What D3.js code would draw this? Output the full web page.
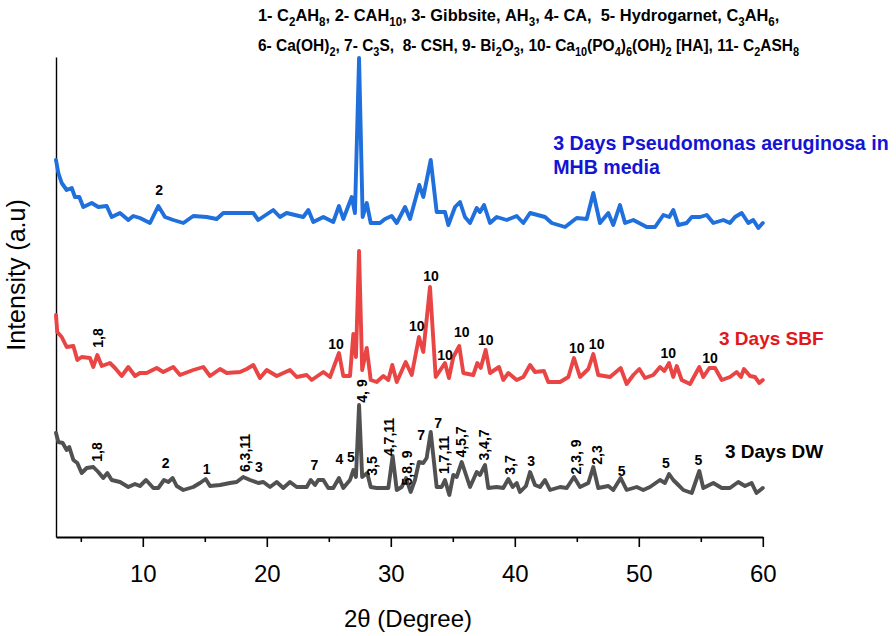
<!DOCTYPE html>
<html>
<head>
<meta charset="utf-8">
<script src="https://cdn.jsdelivr.net/npm/d3@7"></script>
<style>
  body { margin: 0; background: #fff; }
  svg { display: block; }
  text { font-family: "Liberation Sans", Arial, Helvetica, sans-serif; }
</style>
</head>
<body>
<svg id="chart" width="896" height="636"></svg>
<script>
// ---------------- DATA ----------------
// 3 Days DW (grey)
const dwAngle = [3.00,3.19,3.54,3.86,4.07,4.40,4.72,5.07,5.48,6.01,
  6.41,6.81,7.14,7.49,8.16,8.83,9.37,9.77,10.26,10.85,
  11.25,11.71,12.06,12.41,12.73,13.27,14.07,14.61,15.07,15.42,
  16.23,17.03,17.57,18.10,18.65,19.31,19.72,20.26,20.80,21.33,
  21.87,22.41,23.22,23.54,23.89,24.15,24.56,24.96,25.36,25.82,
  26.17,26.71,26.98,27.19,27.44,27.69,28.10,28.38,28.86,29.40,
  29.80,30.15,30.48,30.88,31.23,31.60,31.95,32.27,32.62,32.89,
  33.22,33.70,34.10,34.37,34.72,35.04,35.31,35.72,36.12,36.39,
  36.93,37.19,37.60,37.86,38.54,39.07,39.48,39.83,40.15,40.42,
  40.90,41.23,41.63,42.03,42.44,42.84,43.65,44.19,44.77,45.26,
  45.93,46.33,46.73,47.54,47.94,48.54,49.02,49.83,50.36,50.90,
  51.71,52.11,52.44,52.78,53.19,53.59,54.27,54.88,55.20,56.01,
  56.69,57.35,58.02,58.56,59.10,59.49,60.00];
const dwIntensity = [104,95,94,87,90,77,74,64,69,70,
  65,59,64,57,55,50,53,51,57,49,
  49,57,55,59,51,47,50,54,58,51,
  52,54,55,60,57,54,55,50,55,49,
  55,50,50,57,52,57,57,49,49,59,
  49,57,67,60,132,60,64,50,49,49,
  49,81,47,50,59,45,57,75,74,79,
  105,50,50,57,42,62,60,75,60,50,
  65,62,72,49,50,49,58,50,54,45,
  51,65,52,50,57,47,50,49,60,50,
  54,70,49,51,47,59,47,50,47,50,
  57,54,63,57,52,47,44,66,49,54,
  49,49,55,51,54,44,49];

// 3 Days SBF (red)
const sbfAngle = [3.00,3.10,3.46,3.86,4.40,4.72,5.07,5.74,6.01,6.33,
  6.69,7.35,7.76,8.30,8.83,9.37,9.77,10.31,11.12,11.65,
  12.46,13.00,14.07,14.88,15.42,16.23,16.77,17.84,18.38,18.91,
  19.45,19.99,20.80,21.87,22.41,23.22,23.62,24.56,25.10,25.82,
  26.17,26.71,26.98,27.19,27.44,27.69,28.06,28.38,28.86,29.40,
  29.80,30.12,30.48,31.20,31.69,32.27,32.62,33.16,33.62,34.37,
  34.69,35.04,35.52,35.85,36.65,36.98,37.25,37.65,38.00,38.73,
  39.07,39.48,40.15,40.69,41.23,41.63,42.35,42.70,43.65,44.32,
  44.77,45.26,45.93,46.33,46.73,47.68,48.54,49.02,49.56,50.04,
  50.50,51.17,51.71,52.06,52.44,52.78,53.06,53.46,54.13,54.88,
  55.20,55.69,56.15,56.69,57.35,57.89,58.24,58.48,58.97,59.37,
  59.72,60.00];
const sbfIntensity = [222,205,200,190,191,177,180,179,170,182,
  171,174,169,161,170,161,164,164,169,165,
  170,162,167,170,161,168,164,165,168,172,
  159,167,161,167,160,162,157,165,160,184,
  161,161,203,180,286,167,189,157,155,161,
  157,172,155,175,162,200,185,250,160,174,
  159,180,191,164,162,174,169,187,164,170,
  157,164,157,160,172,165,166,155,155,160,
  179,160,168,183,162,160,169,153,162,168,
  159,162,170,166,174,160,171,157,153,170,
  160,169,169,157,160,165,160,168,161,160,
  154,157];

// 3 Days Pseudomonas aeruginosa in MHB media (blue)
const mhbAngle = [3.00,3.19,3.46,3.86,4.27,4.53,4.88,5.20,5.88,6.41,
  7.09,7.49,8.16,8.83,9.23,9.77,10.58,11.25,11.79,12.46,
  13.27,14.07,15.15,15.96,16.49,17.84,18.91,19.31,20.52,21.06,
  21.60,22.94,23.35,23.75,24.56,25.36,25.82,26.17,26.85,27.11,
  27.44,27.73,28.06,28.38,29.13,29.53,30.07,30.48,31.15,31.55,
  32.30,32.62,33.22,33.70,33.97,34.37,34.64,35.18,35.58,35.98,
  36.39,36.93,37.19,37.52,38.00,38.54,39.35,40.15,40.69,41.23,
  42.44,42.98,44.05,44.99,45.80,46.33,46.87,47.54,47.94,48.48,
  48.89,49.56,50.64,51.31,51.98,52.46,52.78,53.19,53.86,54.27,
  54.94,55.48,56.01,56.82,57.35,57.76,58.30,58.83,59.23,59.64,
  60.00];
const mhbIntensity = [377,364,354,347,349,340,340,330,334,330,
  331,320,324,317,321,319,314,331,320,317,
  314,321,320,318,324,324,324,317,327,320,
  324,320,327,315,320,315,331,318,340,324,
  479,320,334,314,314,318,321,314,330,318,
  352,340,377,325,325,325,312,330,335,320,
  314,329,325,332,314,320,317,321,314,324,
  320,314,310,319,318,344,314,324,312,332,
  314,317,310,310,322,320,327,312,314,320,
  320,322,314,317,314,320,324,314,317,309,
  314];

// Peak annotations: [angle, intensity, label, vertical]
const mhbPeakLabels = [[11.31,347,"2",0]];
const sbfPeakLabels = [
  [6.41,199,"1,8",1],[25.58,193,"10",0],[32.09,211,"10",0],[33.24,261,"10",0],
  [34.37,182,"10",0],[35.72,205,"10",0],[37.65,197,"10",0],[44.99,189,"10",0],
  [46.60,193,"10",0],[52.38,184,"10",0],[55.74,179,"10",0]];
const dwPeakLabels = [
  [6.33,85,"1,8",1],[11.85,74,"2",0],[15.15,68,"1",0],[18.24,84,"6,3,11",1],
  [19.37,70,"3",0],[23.83,72,"7",0],[25.85,78,"4",0],[26.79,80,"5",0],
  [27.68,146,"4, 9",1],[28.46,71,"3,5",1],[29.85,100,"4,7,11",1],[31.28,69,"5,8, 9",1],
  [32.44,102,"7",0],[33.81,114,"7",0],[34.27,82,"1,7,11",1],[35.64,95,"4,5,7",1],
  [37.54,92,"3,4,7",1],[39.61,72,"3,7",1],[41.31,76,"3",0],[44.94,80,"2,3, 9",1],
  [46.60,82,"2,3",1],[48.62,66,"5",0],[52.19,74,"5",0],[54.80,77,"5",0]];

const xTicks = [10,20,30,40,50,60];
const xMinorTicks = [5,15,25,35,45,55];
const titleLines = [
  "1- C_2AH_8, 2- CAH_10, 3- Gibbsite, AH_3, 4- CA,  5- Hydrogarnet, C_3AH_6,",
  "6- Ca(OH)_2, 7- C_3S,  8- CSH, 9- Bi_2O_3, 10- Ca_10(PO_4)_6(OH)_2 [HA], 11- C_2ASH_8"];
const mhbName = ["3 Days Pseudomonas aeruginosa in", "MHB media"];
const sbfName = ["3 Days SBF"];
const dwName = ["3 Days DW"];
const xTitle = "2\u03B8 (Degree)";
const yTitle = "Intensity (a.u)";

// ---------------- CHART ----------------
const svg = d3.select("#chart");
const x = d3.scaleLinear().domain([3, 60]).range([56, 762.8]);
const y = d3.scaleLinear().domain([0, 480]).range([537, 57]);

// axes
const xAxisMinor = d3.axisBottom(x).tickValues(xMinorTicks).tickSize(5).tickSizeOuter(0).tickFormat("");
svg.append("g").attr("transform", "translate(0,537)").call(xAxisMinor)
  .call(g => g.select(".domain").remove())
  .call(g => g.selectAll("line").attr("stroke", "#000").attr("stroke-width", 1.6));

const xAxis = d3.axisBottom(x).tickValues(xTicks).tickSize(10).tickSizeOuter(0).tickPadding(18);
svg.append("g").attr("transform", "translate(0,537)").call(xAxis)
  .call(g => g.select(".domain").attr("stroke", "#000").attr("stroke-width", 2.2))
  .call(g => g.selectAll(".tick line").attr("stroke", "#000").attr("stroke-width", 1.6))
  .call(g => g.selectAll("text").attr("fill", "#000")
    .style("font-size", "24px").style("font-family", "'Liberation Sans', Arial, sans-serif"));

const yAxis = d3.axisLeft(y).tickValues([]).tickSizeOuter(0);
svg.append("g").attr("transform", "translate(56,0)").call(yAxis)
  .call(g => g.select(".domain").attr("stroke", "#000").attr("stroke-width", 1.4));

// lines
const line = d3.line().x(d => x(d[0])).y(d => y(d[1])).curve(d3.curveLinear);
const series = [
  {a: dwAngle, v: dwIntensity, color: "#515151"},
  {a: sbfAngle, v: sbfIntensity, color: "#ea4545"},
  {a: mhbAngle, v: mhbIntensity, color: "#1f6fdc"}
];
series.forEach(s => {
  svg.append("path")
    .datum(s.a.map((a, i) => [a, s.v[i]]))
    .attr("d", line)
    .attr("fill", "none")
    .attr("stroke", s.color)
    .attr("stroke-width", 3.9)
    .attr("stroke-linejoin", "round")
    .attr("stroke-linecap", "round");
});

// peak labels
function peakLabels(list) {
  svg.append("g").selectAll("text").data(list).enter().append("text")
    .attr("transform", d => `translate(${x(d[0])},${y(d[1])})` + (d[3] ? " rotate(-90)" : ""))
    .attr("text-anchor", "middle")
    .attr("dominant-baseline", "central")
    .style("font-size", "14px").style("font-weight", "bold")
    .attr("fill", "#000")
    .text(d => d[2]);
}
peakLabels(mhbPeakLabels);
peakLabels(sbfPeakLabels);
peakLabels(dwPeakLabels);

// series names
function seriesName(lines, ang, val, color, size) {
  const t = svg.append("text").attr("x", x(ang)).attr("y", y(val))
    .style("font-size", size + "px").style("font-weight", "bold").attr("fill", color);
  lines.forEach((l, i) => t.append("tspan").attr("x", x(ang)).attr("dy", i ? 24 : 0).text(l));
}
seriesName(mhbName, 43.1, 387, "#1414d4", 19.6);
seriesName(sbfName, 56.47, 192, "#e3161c", 19);
seriesName(dwName, 56.95, 79, "#000", 19);

// title with subscripts
function richText(str, xPos, yPos, sx) {
  const t = svg.append("text")
    .attr("transform", `translate(${xPos},${yPos}) scale(${sx},1)`)
    .style("font-size", "17px").style("font-weight", "bold").attr("fill", "#000");
  const parts = str.split(/(_\d+)/).filter(p => p.length);
  let shifted = false;
  parts.forEach(p => {
    if (p[0] === "_") {
      t.append("tspan").attr("dy", shifted ? 0 : 5).style("font-size", "12px").text(p.slice(1));
      shifted = true;
    } else {
      t.append("tspan").attr("dy", shifted ? -5 : 0).text(p.replace(/ /g, "\u00A0"));
      shifted = false;
    }
  });
}
richText(titleLines[0], 258, 21, 0.965);
richText(titleLines[1], 258, 51, 0.912);

// axis titles
svg.append("text").attr("x", 408).attr("y", 627).attr("text-anchor", "middle")
  .style("font-size", "24px").attr("fill", "#000").text(xTitle);
svg.append("text").attr("transform", "translate(25,275) rotate(-90)").attr("text-anchor", "middle")
  .style("font-size", "25px").attr("fill", "#000").text(yTitle);
</script>
</body>
</html>
